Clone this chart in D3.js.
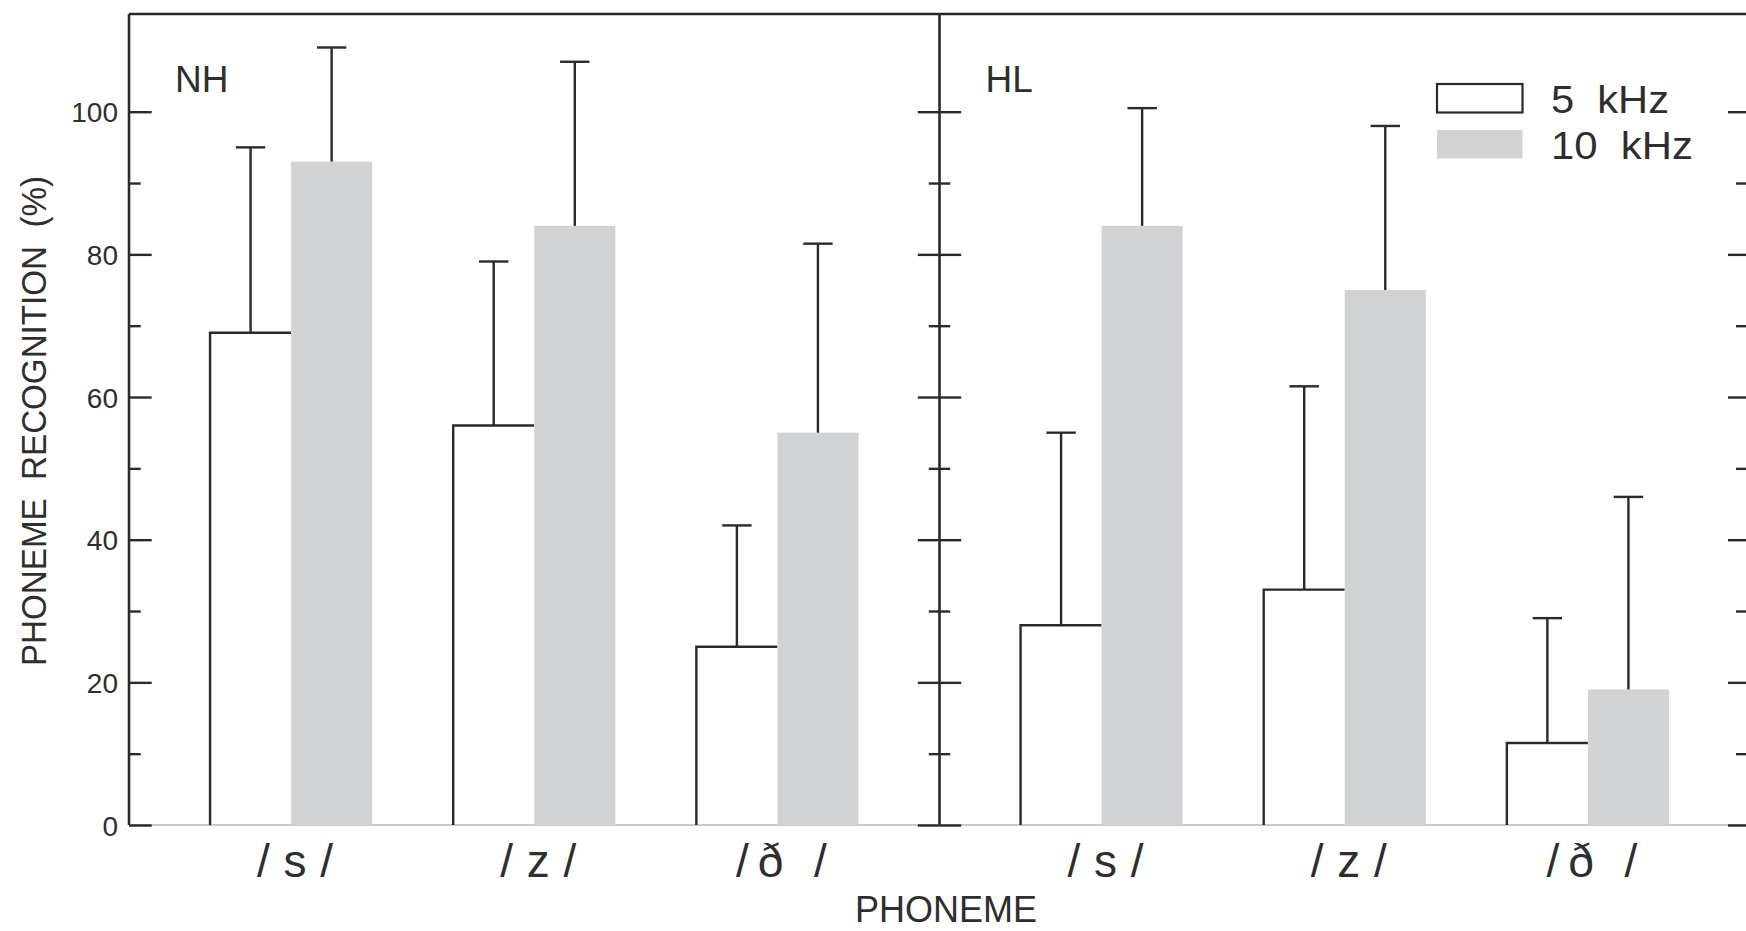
<!DOCTYPE html>
<html>
<head>
<meta charset="utf-8">
<script src="https://cdn.jsdelivr.net/npm/d3@7"></script>
<style>
  html, body { margin: 0; padding: 0; background: #fff; }
  svg { display: block; }
  text { font-family: "Liberation Sans", Arial, sans-serif; fill: #2e2e2e; white-space: pre; }
</style>
</head>
<body>
<svg id="chart" width="1746" height="931"></svg>
<script>
// ---- data ----
const panels = ["NH", "HL"];
const phonemes = ["/s/", "/z/", "/ð /"];
const seriesNames = ["5  kHz", "10  kHz"];
const nh5k = [69, 56, 25];
const nh5kErr = [26, 23, 17];
const nh10k = [93, 84, 55];
const nh10kErr = [16, 23, 26.5];
const hl5k = [28, 33, 11.5];
const hl5kErr = [27, 28.5, 17.5];
const hl10k = [84, 75, 19];
const hl10kErr = [16.5, 23, 27];
const majorTicks = [0, 20, 40, 60, 80, 100];
const minorTicks = [10, 30, 50, 70, 90];
const yTitle = "PHONEME  RECOGNITION  (%)";
const xTitle = "PHONEME";

const values = {
  NH: [{ v: nh5k, e: nh5kErr }, { v: nh10k, e: nh10kErr }],
  HL: [{ v: hl5k, e: hl5kErr }, { v: hl10k, e: hl10kErr }]
};

// ---- layout ----
const svg = d3.select("#chart");
const dark = "#2a2a2a";
const grayFill = "#d1d2d4";
const left = 129, right = 1750, bottom = 825;

const y = d3.scaleLinear().domain([0, 100]).range([bottom, 111.7]);
const panelX = d3.scaleBand().domain(panels).range([left, right]);
const x0 = d3.scaleBand().domain(phonemes).range([0, panelX.bandwidth()])
  .paddingInner(1 / 3).paddingOuter(1 / 3);
const x1 = d3.scaleBand().domain(seriesNames).range([0, x0.bandwidth()]);

// x-axis baseline (light gray)
svg.append("line")
  .attr("x1", left).attr("x2", right)
  .attr("y1", y(0)).attr("y2", y(0))
  .attr("stroke", "#c9c9c9").attr("stroke-width", 2.2);

// bars
panels.forEach(p => {
  const g = svg.append("g").attr("transform", `translate(${panelX(p)},0)`);
  phonemes.forEach((ph, i) => {
    seriesNames.forEach((s, k) => {
      const d = values[p][k];
      const bx = x0(ph) + x1(s);
      const bw = x1.bandwidth();
      const top = y(d.v[i]);
      if (k === 1) {
        g.append("rect")
          .attr("x", bx).attr("y", top)
          .attr("width", bw).attr("height", y(0) - top)
          .attr("fill", grayFill);
      } else {
        g.append("path")
          .attr("d", `M${bx},${y(0)}V${top}H${bx + bw}`)
          .attr("fill", "none").attr("stroke", dark).attr("stroke-width", 2.4);
      }
      // error bar
      const cx = bx + bw / 2;
      const et = y(d.v[i] + d.e[i]);
      g.append("line")
        .attr("x1", cx).attr("x2", cx).attr("y1", top).attr("y2", et)
        .attr("stroke", dark).attr("stroke-width", 2.4);
      g.append("line")
        .attr("x1", cx - 14.7).attr("x2", cx + 14.7).attr("y1", et).attr("y2", et)
        .attr("stroke", dark).attr("stroke-width", 2.4);
    });
    // category label
    g.append("text")
      .attr("x", x0(ph) + x0.bandwidth() / 2 + 4)
      .attr("y", 877)
      .attr("text-anchor", "middle")
      .attr("font-size", 46)
      .attr("textLength", i === 2 ? 91 : 76)
      .attr("lengthAdjust", "spacing")
      .text(ph);
  });
  // panel label
  g.append("text")
    .attr("x", 46).attr("y", 91.5)
    .attr("font-size", 37)
    .text(p);
});

// axes helpers
function styleAxis(sel) {
  sel.select(".domain").remove();
  sel.selectAll(".tick line").attr("stroke", dark).attr("stroke-width", 2.4);
}

// left axis: major with labels, ticks inward
const leftMajor = svg.append("g").attr("transform", `translate(${left},0)`)
  .call(d3.axisLeft(y).tickValues(majorTicks).tickSizeInner(-22.7).tickSizeOuter(0).tickPadding(11).tickFormat(d3.format("d")));
styleAxis(leftMajor);
leftMajor.selectAll(".tick text")
  .attr("font-family", "'Liberation Sans', Arial, sans-serif")
  .attr("font-size", 28).attr("fill", "#333").attr("dy", "0.36em");
const leftMinor = svg.append("g").attr("transform", `translate(${left},0)`)
  .call(d3.axisLeft(y).tickValues(minorTicks).tickSizeInner(-11.7).tickSizeOuter(0).tickFormat(""));
styleAxis(leftMinor);

// middle axis: ticks both sides
const mid = panelX("HL");
[[d3.axisLeft, majorTicks, 21.7], [d3.axisRight, majorTicks, 21.7],
 [d3.axisLeft, minorTicks, 10.7], [d3.axisRight, minorTicks, 10.7]].forEach(([ax, tv, sz]) => {
  const g = svg.append("g").attr("transform", `translate(${mid},0)`)
    .call(ax(y).tickValues(tv).tickSize(sz).tickFormat(""));
  styleAxis(g);
});

// right axis: ticks inward
[[majorTicks, 22], [minorTicks, 14]].forEach(([tv, sz]) => {
  const g = svg.append("g").attr("transform", `translate(${right},0)`)
    .call(d3.axisLeft(y).tickValues(tv).tickSize(sz).tickFormat(""));
  styleAxis(g);
});

// frame lines
const yTop = y(113.7);
svg.append("line").attr("x1", left).attr("x2", right).attr("y1", yTop).attr("y2", yTop)
  .attr("stroke", dark).attr("stroke-width", 2.4);
[left, mid, right].forEach(xv => {
  svg.append("line").attr("x1", xv).attr("x2", xv).attr("y1", yTop).attr("y2", y(0))
    .attr("stroke", dark).attr("stroke-width", 2.6);
});

// legend
const legend = svg.append("g");
seriesNames.forEach((s, k) => {
  const ly = k === 0 ? 84 : 130;
  legend.append("rect")
    .attr("x", 1437).attr("y", ly).attr("width", 85.5).attr("height", 28.5)
    .attr("fill", k === 0 ? "#fff" : grayFill)
    .attr("stroke", k === 0 ? dark : "none").attr("stroke-width", 2.2);
  legend.append("text")
    .attr("x", 1551).attr("y", ly + 28.5)
    .attr("font-size", 39)
    .attr("textLength", k === 0 ? 118 : 142)
    .attr("lengthAdjust", "spacingAndGlyphs")
    .text(s);
});

// axis titles
svg.append("text")
  .attr("transform", `translate(46,421) rotate(-90)`)
  .attr("text-anchor", "middle")
  .attr("font-size", 35)
  .attr("fill", "#3a3a3a")
  .attr("textLength", 490)
  .attr("lengthAdjust", "spacingAndGlyphs")
  .text(yTitle);
svg.append("text")
  .attr("x", 946).attr("y", 922)
  .attr("text-anchor", "middle")
  .attr("font-size", 36)
  .attr("fill", "#333")
  .text(xTitle);
</script>
</body>
</html>
